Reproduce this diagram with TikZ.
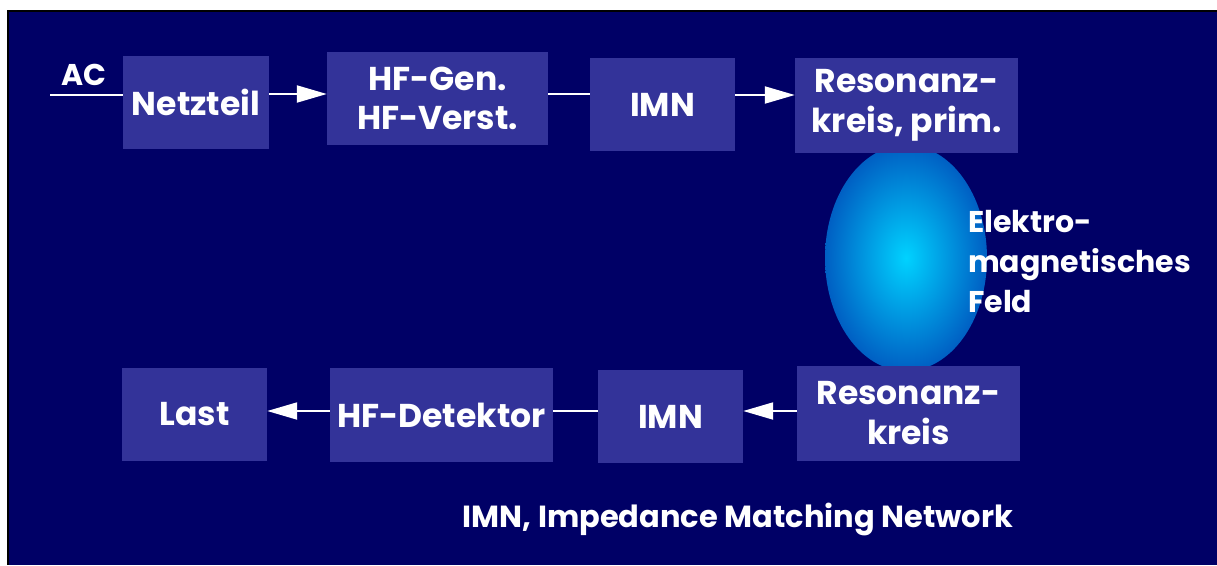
\documentclass[tikz,border=0pt]{standalone}
\usepackage{fontspec}
\setmainfont{Poppins}
\usetikzlibrary{arrows.meta,shapes.geometric}
\definecolor{navybg}{RGB}{0,0,102}
\definecolor{boxblue}{RGB}{51,51,153}
\definecolor{fieldin}{RGB}{0,210,255}
\definecolor{fieldout}{RGB}{0,95,195}
\begin{document}
\begin{tikzpicture}[x=1pt,y=-1pt,
  blk/.style={fill=boxblue, draw=none, text=white, font=\fontsize{33}{39}\selectfont\bfseries, align=center, inner sep=0pt},
  lbl/.style={text=white, font=\fontsize{30}{36}\selectfont\bfseries, inner sep=0pt},
  conn/.style={draw=white, line width=2pt},
  arr/.style={conn, -{Triangle[length=30pt,width=17pt]}}]
\useasboundingbox (0,0) rectangle (1217,565);
\fill[white] (0,0) rectangle (1217,565);
\fill[black] (7,10) rectangle (1217,565);
\fill[navybg] (8.5,11.5) rectangle (1217,565);
% field
\node[ellipse, minimum width=162pt, minimum height=226pt, inner sep=0pt, draw=none,
  inner color=fieldin, outer color=fieldout] (field) at (906,258) {};
% top row
\node[blk, minimum width=146pt, minimum height=93pt] (net) at (196,102.5) {Netzteil};
\node[blk, minimum width=221pt, minimum height=93pt] (hf) at (437.5,98.5) {HF-Gen.\\HF-Verst.};
\node[blk, minimum width=145pt, minimum height=93pt] (imn1) at (662.5,104.5) {IMN};
\node[blk, minimum width=223pt, minimum height=95pt, font=\fontsize{33}{40}\selectfont\bfseries] (res1) at (906.5,105.5) {Resonanz-\\kreis, prim.};
% bottom row
\node[blk, minimum width=145pt, minimum height=93pt] (last) at (194.5,414.5) {Last};
\node[blk, minimum width=223pt, minimum height=94pt] (det) at (441.5,415) {HF-Detektor};
\node[blk, minimum width=145pt, minimum height=93pt] (imn2) at (670.5,416.5) {IMN};
\node[blk, minimum width=223pt, minimum height=95pt, font=\fontsize{33}{40}\selectfont\bfseries] (res2) at (908.5,413.5) {Resonanz-\\kreis};
% labels
\node[lbl] (ac) at (84,75) {AC};
\coordinate (acin) at (50,95);
\node[lbl, align=left, anchor=west, font=\fontsize{30}{40}\selectfont\bfseries] (feld) at (968,262) {Elektro-\\magnetisches\\Feld};
\node[lbl, font=\fontsize{30.5}{36}\selectfont\bfseries] (note) at (738,519) {IMN, Impedance Matching Network};
% connectors
\draw[conn] (acin) -- (acin -| net.west);
\draw[arr] ([yshift=8.5pt]net.east) -- ([yshift=8.5pt]net.east -| hf.west);
\draw[conn] ([yshift=4.5pt]hf.east) -- ([yshift=4.5pt]hf.east -| imn1.west);
\draw[arr] ([yshift=9.5pt]imn1.east) -- ([yshift=9.5pt]imn1.east -| res1.west);
\draw[arr] ([yshift=2.5pt]res2.west) -- ([yshift=2.5pt]res2.west -| imn2.east);
\draw[conn] ([yshift=5.5pt]imn2.west) -- ([yshift=5.5pt]imn2.west -| det.east);
\draw[arr] ([yshift=4pt]det.west) -- ([yshift=4pt]det.west -| last.east);
\end{tikzpicture}
\end{document}
